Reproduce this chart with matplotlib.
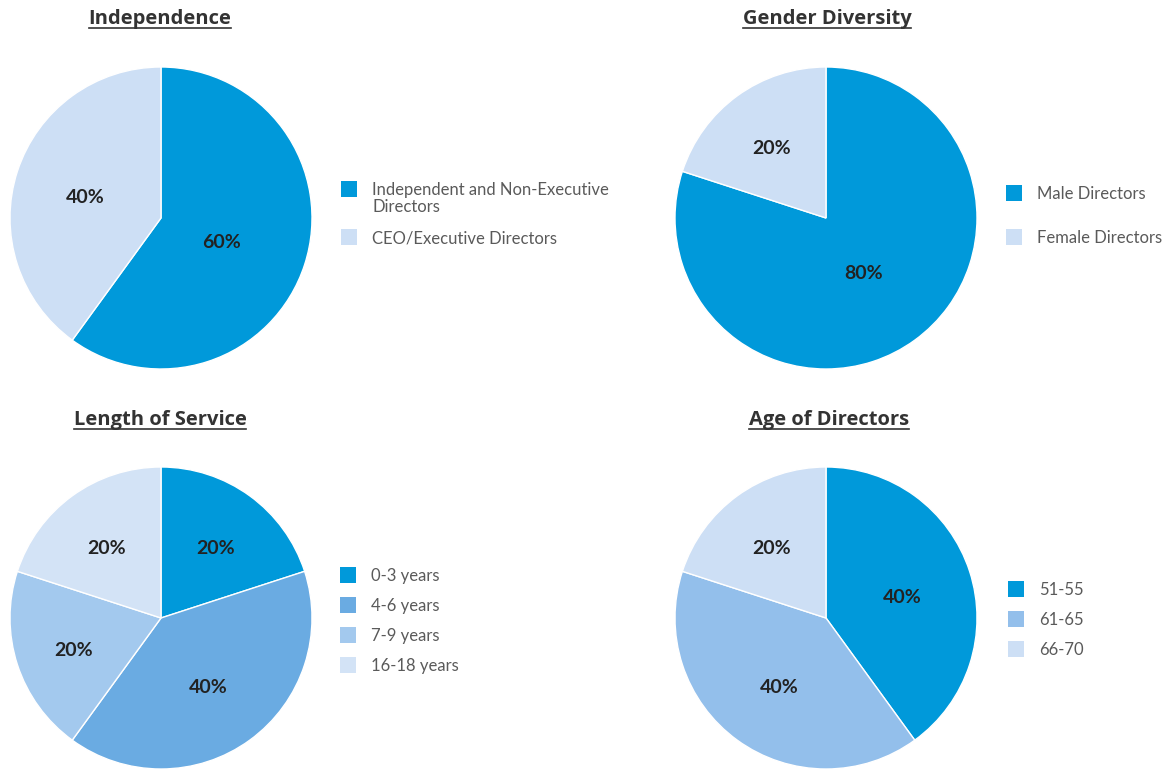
import numpy as np
import matplotlib
matplotlib.use("Agg")
import matplotlib.pyplot as plt
from matplotlib.patches import Rectangle
from matplotlib.lines import Line2D

W, H = 1171, 769

# ---- data ----
independence_labels = ["Independent and Non-Executive\nDirectors", "CEO/Executive Directors"]
independence_values = [60, 40]
independence_colors = ["#0099da", "#cddff5"]

gender_labels = ["Male Directors", "Female Directors"]
gender_values = [80, 20]
gender_colors = ["#0099da", "#cddff5"]

service_labels = ["0-3 years", "4-6 years", "7-9 years", "16-18 years"]
service_values = [20, 40, 20, 20]
service_colors = ["#0099da", "#6aabe2", "#a3c9ee", "#d3e3f6"]

age_labels = ["51-55", "61-65", "66-70"]
age_values = [40, 40, 20]
age_colors = ["#0099da", "#93bfeb", "#cddff5"]

# ---- layout (pixels) ----
charts = [
    dict(title="Independence", values=independence_values, labels=independence_labels,
         colors=independence_colors, center=(161, 218), title_pos=(160, 19),
         legend_x=341, legend_y=[181, 229]),
    dict(title="Gender Diversity", values=gender_values, labels=gender_labels,
         colors=gender_colors, center=(826, 218), title_pos=(827, 19),
         legend_x=1006, legend_y=[185, 229]),
    dict(title="Length of Service", values=service_values, labels=service_labels,
         colors=service_colors, center=(161, 618), title_pos=(160, 420),
         legend_x=340, legend_y=[567, 597, 627, 657]),
    dict(title="Age of Directors", values=age_values, labels=age_labels,
         colors=age_colors, center=(826, 618), title_pos=(829, 420),
         legend_x=1008, legend_y=[581, 611, 641]),
]
R = 151
SQ = 16


def fx(px):
    return px / W


def fy(py):
    return 1 - py / H


def label_radius(v):
    # bigger slices get their label pulled toward the centre
    if v >= 60:
        return 0.42
    if v >= 40:
        return 0.53
    return 0.61


fig = plt.figure(figsize=(W / 100, H / 100), dpi=100)

titles = []
for c in charts:
    cx, cy = c["center"]
    ax = fig.add_axes([fx(cx - R), fy(cy + R), 2 * R / W, 2 * R / H])
    wedges, _, autotexts = ax.pie(
        c["values"], colors=c["colors"], startangle=90, counterclock=False,
        autopct="%.0f%%", pctdistance=0.56,
        wedgeprops=dict(edgecolor="white", linewidth=1),
        textprops=dict(family="Lato", fontweight="bold", fontsize=14, color="#222222"))
    for v, at in zip(c["values"], autotexts):
        x, y = at.get_position()
        ang = np.arctan2(y, x)
        r = label_radius(v)
        at.set_position((r * np.cos(ang), r * np.sin(ang) - 0.02))
        at.set_va("center_baseline")
    ax.set_xlim(-1, 1)
    ax.set_ylim(-1, 1)
    ax.set_aspect("equal")
    ax.axis("off")

    tx, ty = c["title_pos"]
    t = fig.text(fx(tx), fy(ty), c["title"], ha="center", va="center",
                 family="Open Sans", fontweight="bold", fontsize=14.5, color="#333333")
    titles.append(t)

    # legend
    for lab, col, ly in zip(c["labels"], c["colors"], c["legend_y"]):
        fig.patches.append(Rectangle((fx(c["legend_x"]), fy(ly + SQ)), SQ / W, SQ / H,
                                     transform=fig.transFigure, facecolor=col,
                                     edgecolor="none"))
        fig.text(fx(c["legend_x"] + SQ + 15), fy(ly + 1), lab, ha="left", va="top",
                 family="Lato", fontsize=12, color="#5a5a5a", linespacing=1.1)

# underline titles
fig.canvas.draw()
renderer = fig.canvas.get_renderer()
for t in titles:
    bb = t.get_window_extent(renderer)
    y = bb.y0 + 1
    fig.lines.append(Line2D([bb.x0 / W, bb.x1 / W], [y / H, y / H],
                            transform=fig.transFigure, color="#333333", linewidth=1.2))

fig.savefig("out.png", dpi=100)
